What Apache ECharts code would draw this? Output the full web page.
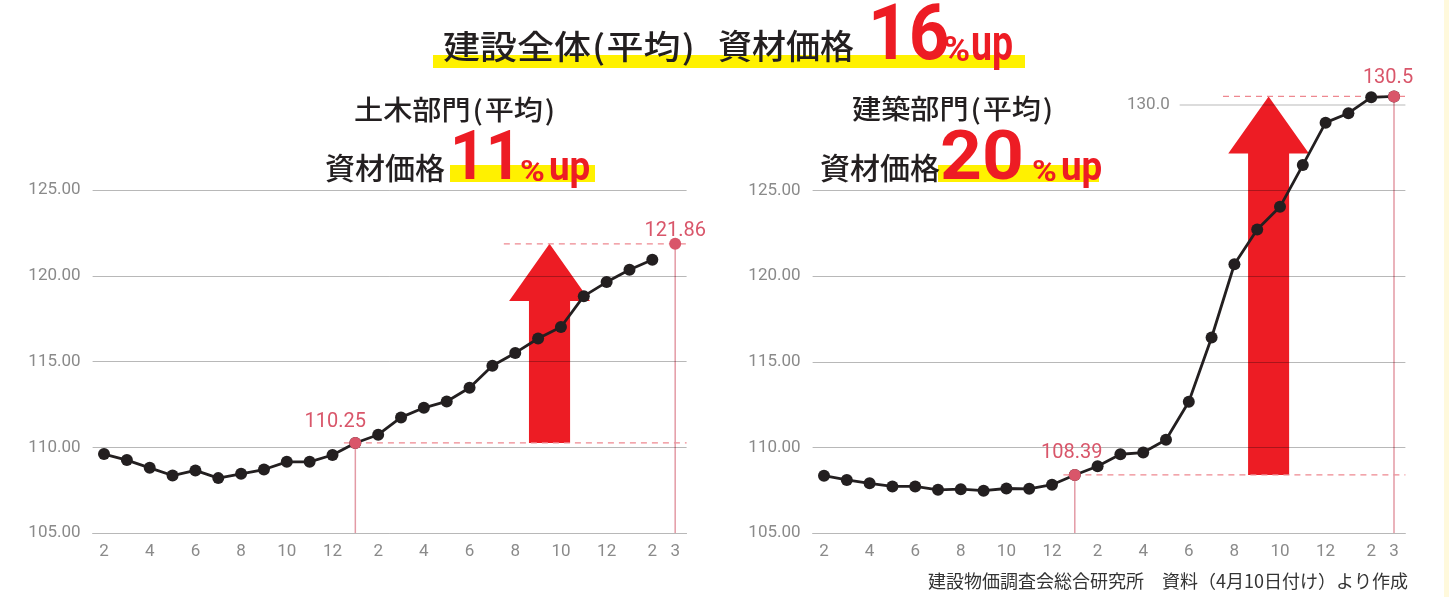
<!DOCTYPE html>
<html>
<head>
<meta charset="utf-8">
<script src="https://cdn.jsdelivr.net/npm/echarts@6/dist/echarts.min.js"></script>
<style>
html,body{margin:0;padding:0;background:#fff;}
#c{width:1449px;height:597px;}
</style>
</head>
<body>
<div id="c"></div>
<script>
// ---- data ----
const categories = ['2021-02','2021-03','2021-04','2021-05','2021-06','2021-07','2021-08','2021-09','2021-10','2021-11','2021-12',
  '2022-01','2022-02','2022-03','2022-04','2022-05','2022-06','2022-07','2022-08','2022-09','2022-10','2022-11','2022-12',
  '2023-01','2023-02','2023-03'];
// 土木部門（平均）
const civilValues = [109.6, 109.25, 108.8, 108.35, 108.65, 108.2, 108.45, 108.7, 109.15, 109.15, 109.55, 110.25,
  110.73, 111.74, 112.3, 112.67, 113.47, 114.75, 115.5, 116.34, 117.01, 118.81, 119.63, 120.35, 120.93, 121.86];
// 建築部門（平均）
const buildingValues = [108.35, 108.1, 107.9, 107.72, 107.72, 107.52, 107.56, 107.47, 107.6, 107.58, 107.82, 108.39,
  108.9, 109.6, 109.7, 110.45, 112.67, 116.42, 120.7, 122.73, 124.05, 126.49, 128.97, 129.52, 130.45, 130.5];
const highlightIndex = [11, 25];          // 2022-01 and 2023-03
const civilTicks = [105, 110, 115, 120, 125];
const buildingTicks = [105, 110, 115, 120, 125, 130];
const overallRise = '16', civilRise = '11', buildingRise = '20';

// ---- helpers ----
const NUM_FONT = 'Roboto, "Noto Sans", sans-serif';
const JP_FONT = '"Noto Sans CJK JP", "Noto Sans", sans-serif';
const RED = '#ED1C24', YELLOW = '#FFF100', PINK = '#D9566A', INK = '#231F20';
const monthLabel = (cat, idx) => {
  const m = parseInt(cat.split('-')[1], 10);
  return (m % 2 === 0 || idx === categories.length - 1) ? String(m) : '';
};
const ARROW_AT = 19;

function annotation(params, api) {
  const i0 = api.value(0), v0 = api.value(1), i1 = api.value(2), v1 = api.value(3);
  const cs = params.coordSys;
  const bw = api.size([1, 0])[0];
  const p0 = api.coord([i0, v0]);
  const p1 = api.coord([i1, v1]);
  const right = cs.x + cs.width, bottom = cs.y + cs.height;
  const ax = api.coord([ARROW_AT, v0])[0] + bw * 0.5;
  const sh = bw * 0.9, hh = bw * 1.77, hl = bw * 2.5;
  const top = p1[1], base = p0[1];
  return {
    type: 'group',
    children: [
      { type: 'polygon', shape: { points: [
          [ax - sh, base], [ax - sh, top + hl], [ax - hh, top + hl], [ax, top],
          [ax + hh, top + hl], [ax + sh, top + hl], [ax + sh, base]] },
        style: { fill: RED } },
      { type: 'line', shape: { x1: p0[0] - bw * 0.5, y1: base, x2: right, y2: base },
        style: { stroke: '#EE8890', lineWidth: 1.3, lineDash: [6, 5] } },
      { type: 'line', shape: { x1: ax - bw * 2, y1: top, x2: right, y2: top },
        style: { stroke: '#EE8890', lineWidth: 1.3, lineDash: [6, 5] } },
      { type: 'line', shape: { x1: p0[0], y1: base, x2: p0[0], y2: bottom },
        style: { stroke: '#E39AA5', lineWidth: 1.5 } },
      { type: 'line', shape: { x1: p1[0], y1: top, x2: p1[0], y2: bottom },
        style: { stroke: '#E39AA5', lineWidth: 1.5 } }
    ]
  };
}

function topTickLine(params, api) {
  const cs = params.coordSys;
  const bw = api.size([1, 0])[0];
  const p = api.coord([api.value(0), api.value(1)]);
  const x0 = p[0] + bw * 0.6;
  return {
    type: 'group',
    children: [
      { type: 'line', shape: { x1: x0, y1: p[1], x2: cs.x + cs.width, y2: p[1] },
        style: { stroke: 'rgba(0,0,0,0.28)', lineWidth: 1 } },
      { type: 'text', x: x0 - 10, y: p[1],
        style: { text: api.value(1).toFixed(1), fill: '#8a8a8a', font: '17px ' + NUM_FONT,
          align: 'right', verticalAlign: 'middle' } }
    ]
  };
}

function makeXAxis(gridIndex) {
  return {
    type: 'category', gridIndex, data: categories, boundaryGap: true,
    axisLine: { lineStyle: { color: 'rgba(0,0,0,0.28)', width: 1 } },
    axisTick: { show: false },
    axisLabel: { interval: 0, margin: 10, color: '#8a8a8a', fontSize: 17, fontFamily: NUM_FONT,
      formatter: monthLabel }
  };
}
function makeYAxis(gridIndex, ticks, showTop) {
  return {
    type: 'value', gridIndex, min: ticks[0], max: ticks[ticks.length - 1], interval: ticks[1] - ticks[0],
    axisLine: { show: false }, axisTick: { show: false },
    axisLabel: { margin: 12, color: '#8a8a8a', fontSize: 17, fontFamily: NUM_FONT,
      formatter: v => (!showTop && v === ticks[ticks.length - 1]) ? '' : v.toFixed(2) },
    splitLine: { show: true, showMinLine: false, showMaxLine: showTop,
      lineStyle: { color: 'rgba(0,0,0,0.28)', width: 1 } }
  };
}

function pointLabel(offsetX, dist) {
  return { show: true, position: 'top', distance: dist, offset: [offsetX, 0],
    color: PINK, fontSize: 20, fontFamily: NUM_FONT, formatter: p => String(p.value[1]) };
}

const chart = echarts.init(document.getElementById('c'), null, { renderer: 'canvas' });

// "名前(平均)" title with narrow parentheses boxes
function parenTitle(x, y, name, size, parenBox, scaleX) {
  const f = '500 ' + size + 'px ' + JP_FONT;
  return { type: 'text', x: x, y: y, z: 10, scaleX: scaleX || 1,
    style: { text: '{a|' + name + '}{p|(}{a|平均}{p|)}', verticalAlign: 'middle', fill: INK, font: f,
      rich: { a: { font: f, fill: INK },
              p: { font: f, fill: INK, width: parenBox, align: 'center' } } } };
}

const titleTexts = [];
function addRise(x, baseline, digits, digitSize, digitScale, pctSize, pctScale, upSize, upScale, pctX, upX) {
  titleTexts.push({ type: 'text', x: x, y: baseline - 0.29 * digitSize, scaleX: digitScale, z: 10,
    style: { text: digits, fill: RED, font: 'bold ' + digitSize + 'px ' + NUM_FONT, verticalAlign: 'middle' } });
  titleTexts.push({ type: 'text', x: pctX, y: baseline - 0.29 * pctSize, scaleX: pctScale, z: 10,
    style: { text: '%', fill: RED, font: 'bold ' + pctSize + 'px ' + NUM_FONT, verticalAlign: 'middle' } });
  titleTexts.push({ type: 'text', x: upX, y: baseline - 0.29 * upSize, scaleX: upScale, z: 10,
    style: { text: 'up', fill: RED, font: 'bold ' + upSize + 'px ' + NUM_FONT, verticalAlign: 'middle' } });
}

const graphics = [
  { type: 'rect', left: 1444, top: 0, shape: { width: 5, height: 597 }, style: { fill: '#FFF9DC' }, z: 0 },
  { type: 'rect', shape: { x: 433, y: 55, width: 592, height: 13 }, style: { fill: YELLOW }, z: 1 },
  { type: 'rect', shape: { x: 450, y: 165, width: 145, height: 17 }, style: { fill: YELLOW }, z: 1 },
  { type: 'rect', shape: { x: 938, y: 165, width: 161, height: 17 }, style: { fill: YELLOW }, z: 1 },
  parenTitle(443, 46, '建設全体', 33, 14, 1.12),
  { type: 'text', x: 718, y: 46, z: 10, style: { text: '資材価格', fill: INK, font: '500 34px ' + JP_FONT, verticalAlign: 'middle' } },
  parenTitle(354, 110, '土木部門', 27, 13, 1.08),
  { type: 'text', x: 325, y: 168, z: 10, style: { text: '資材価格', fill: INK, font: '500 30px ' + JP_FONT, verticalAlign: 'middle' } },
  parenTitle(852, 108.5, '建築部門', 27, 13, 1.08),
  { type: 'text', x: 820, y: 168, z: 10, style: { text: '資材価格', fill: INK, font: '500 30px ' + JP_FONT, verticalAlign: 'middle' } },
  { type: 'text', right: 41, top: 572, z: 10, style: { text: '建設物価調査会総合研究所　資料（4月10日付け）より作成', fill: '#333', font: '18px ' + JP_FONT } }
];
addRise(868, 62, overallRise, 77, 0.92, 35, 1.05, 50, 0.75, 943, 971);
addRise(450, 182, civilRise, 69, 0.9, 30, 1.12, 40, 0.92, 520, 549);
addRise(940, 182, buildingRise, 69, 1.06, 30, 1.12, 40, 0.92, 1032, 1061);

chart.setOption({
  animation: false,
  backgroundColor: '#fff',
  grid: [
    { left: 92.6, right: 1449 - 686.6, top: 190, bottom: 64 },
    { left: 812.6, right: 1449 - 1405.4, top: 105, bottom: 64 }
  ],
  xAxis: [makeXAxis(0), makeXAxis(1)],
  yAxis: [makeYAxis(0, civilTicks, true), makeYAxis(1, buildingTicks, false)],
  graphic: graphics.concat(titleTexts),
  series: [
    { type: 'custom', xAxisIndex: 0, yAxisIndex: 0, z: -1, silent: true, clip: false,
      data: [[highlightIndex[0], civilValues[highlightIndex[0]], highlightIndex[1], civilValues[highlightIndex[1]]]],
      renderItem: annotation },
    { type: 'custom', xAxisIndex: 1, yAxisIndex: 1, z: -1, silent: true, clip: false,
      data: [[highlightIndex[0], buildingValues[highlightIndex[0]], highlightIndex[1], buildingValues[highlightIndex[1]]]],
      renderItem: annotation },
    { type: 'custom', xAxisIndex: 1, yAxisIndex: 1, z: -1, silent: true, clip: false,
      data: [[15, buildingTicks[buildingTicks.length - 1]]],
      renderItem: topTickLine },
    { type: 'line', xAxisIndex: 0, yAxisIndex: 0, data: civilValues.slice(0, civilValues.length - 1),
      symbol: 'circle', symbolSize: 12, clip: false,
      lineStyle: { color: INK, width: 2.8 }, itemStyle: { color: INK } },
    { type: 'line', xAxisIndex: 1, yAxisIndex: 1, data: buildingValues,
      symbol: 'circle', symbolSize: 12, clip: false,
      lineStyle: { color: INK, width: 2.8 }, itemStyle: { color: INK } },
    { type: 'scatter', xAxisIndex: 0, yAxisIndex: 0, symbolSize: 12, z: 5, clip: false,
      itemStyle: { color: PINK, opacity: 1 },
      data: [
        { value: [highlightIndex[0], civilValues[highlightIndex[0]]], label: pointLabel(-20, 5) },
        { value: [highlightIndex[1], civilValues[highlightIndex[1]]], label: pointLabel(0, -3) }
      ] },
    { type: 'scatter', xAxisIndex: 1, yAxisIndex: 1, symbolSize: 12, z: 5, clip: false,
      itemStyle: { color: PINK, opacity: 1 },
      data: [
        { value: [highlightIndex[0], buildingValues[highlightIndex[0]]], label: pointLabel(-3, 6) },
        { value: [highlightIndex[1], buildingValues[highlightIndex[1]]], label: pointLabel(-6, 2) }
      ] }
  ]
});
</script>
</body>
</html>
